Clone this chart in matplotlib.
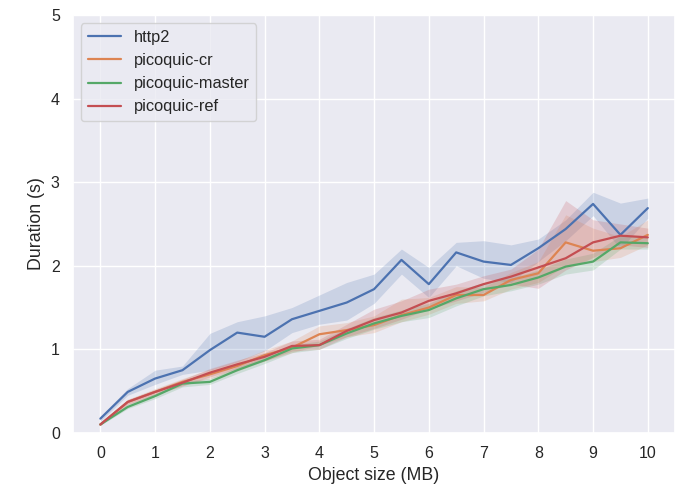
import matplotlib
matplotlib.use('Agg')
import matplotlib.pyplot as plt
import numpy as np
import seaborn as sns

sizes = [0, 0.5, 1, 1.5, 2, 2.5, 3, 3.5, 4, 4.5, 5, 5.5, 6, 6.5, 7, 7.5, 8, 8.5, 9, 9.5, 10]

http2 = [0.17, 0.49, 0.65, 0.75, 0.99, 1.20, 1.15, 1.36, 1.46, 1.56, 1.72, 2.07, 1.78, 2.16,
         2.05, 2.01, 2.21, 2.44, 2.74, 2.37, 2.69]
http2_lo = [0.14, 0.45, 0.58, 0.70, 0.75, 0.85, 0.98, 1.20, 1.30, 1.35, 1.55, 1.90, 1.62, 2.00,
            1.85, 1.80, 2.05, 2.30, 2.60, 2.20, 2.57]
http2_hi = [0.20, 0.53, 0.75, 0.80, 1.19, 1.33, 1.40, 1.50, 1.65, 1.80, 1.90, 2.20, 1.98, 2.28,
            2.30, 2.25, 2.32, 2.55, 2.88, 2.75, 2.81]

cr = [0.10, 0.37, 0.49, 0.61, 0.70, 0.80, 0.93, 1.02, 1.18, 1.23, 1.29, 1.41, 1.50, 1.65,
      1.65, 1.83, 1.91, 2.28, 2.18, 2.21, 2.37]
cr_lo = [0.09, 0.34, 0.45, 0.57, 0.65, 0.74, 0.86, 0.96, 1.05, 1.15, 1.20, 1.33, 1.42, 1.55,
         1.58, 1.72, 1.80, 2.00, 2.05, 2.10, 2.25]
cr_hi = [0.11, 0.40, 0.53, 0.65, 0.76, 0.86, 0.99, 1.10, 1.28, 1.32, 1.40, 1.60, 1.62, 1.75,
         1.74, 1.92, 2.05, 2.61, 2.45, 2.35, 2.55]

master = [0.10, 0.31, 0.44, 0.59, 0.61, 0.75, 0.87, 1.01, 1.05, 1.19, 1.31, 1.40, 1.47, 1.61,
          1.72, 1.77, 1.86, 1.99, 2.05, 2.28, 2.27]
master_lo = [0.09, 0.29, 0.41, 0.55, 0.58, 0.71, 0.83, 0.96, 1.00, 1.13, 1.24, 1.33, 1.38, 1.52,
             1.64, 1.70, 1.78, 1.90, 1.95, 2.20, 2.20]
master_hi = [0.11, 0.34, 0.47, 0.62, 0.65, 0.79, 0.91, 1.05, 1.10, 1.25, 1.38, 1.47, 1.55, 1.70,
             1.80, 1.85, 1.95, 2.08, 2.15, 2.36, 2.35]

ref = [0.10, 0.37, 0.49, 0.60, 0.72, 0.82, 0.91, 1.04, 1.05, 1.22, 1.35, 1.44, 1.58, 1.67,
       1.78, 1.87, 1.98, 2.09, 2.28, 2.36, 2.34]
ref_lo = [0.09, 0.34, 0.46, 0.56, 0.67, 0.77, 0.86, 0.98, 1.00, 1.15, 1.25, 1.36, 1.48, 1.58,
          1.68, 1.78, 1.73, 1.95, 2.10, 2.25, 2.22]
ref_hi = [0.11, 0.40, 0.52, 0.64, 0.77, 0.87, 0.96, 1.10, 1.12, 1.30, 1.48, 1.58, 1.72, 1.78,
          1.88, 1.96, 2.20, 2.78, 2.55, 2.50, 2.45]

series = [
    ('http2', http2, http2_lo, http2_hi),
    ('picoquic-cr', cr, cr_lo, cr_hi),
    ('picoquic-master', master, master_lo, master_hi),
    ('picoquic-ref', ref, ref_lo, ref_hi),
]

sns.set_theme()
plt.rcParams['font.family'] = ['Liberation Sans', 'DejaVu Sans']
colors = sns.color_palette()

fig = plt.figure(figsize=(6.82, 4.88), dpi=100)
ax = fig.add_subplot(1, 1, 1)
fig.subplots_adjust(left=0.107, right=0.99, top=0.969, bottom=0.113)

for i, (name, y, lo, hi) in enumerate(series):
    ax.plot(sizes, y, color=colors[i], label=name, linewidth=1.6)
    ax.fill_between(sizes, lo, hi, color=colors[i], alpha=0.2, linewidth=0)

ax.set_xticks(range(0, 11))
ax.set_ylim(0, 5)
ax.tick_params(labelsize=11.5)
ax.set_xlabel('Object size (MB)', fontsize=12.8)
ax.set_ylabel('Duration (s)', fontsize=12.8)
ax.legend(loc='upper left', fontsize=11.8)

plt.savefig('out.png', dpi=100)
plt.close()
